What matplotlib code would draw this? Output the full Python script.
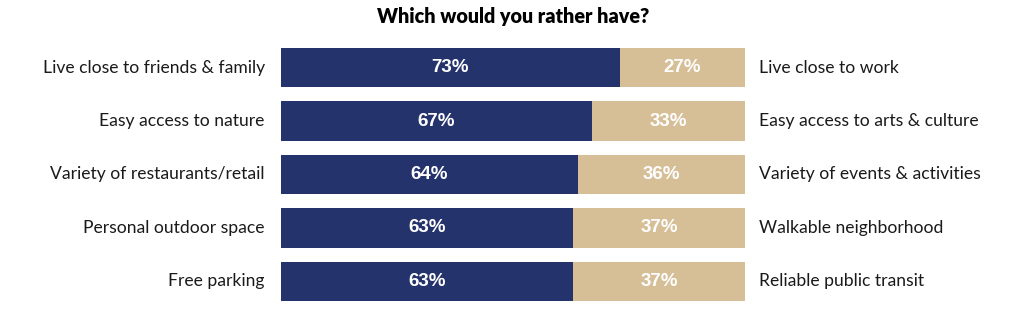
import matplotlib
matplotlib.use("Agg")
import matplotlib.pyplot as plt

left_labels = ["Live close to friends & family", "Easy access to nature",
               "Variety of restaurants/retail", "Personal outdoor space",
               "Free parking"]
right_labels = ["Live close to work", "Easy access to arts & culture",
                "Variety of events & activities", "Walkable neighborhood",
                "Reliable public transit"]
left_pct = [73, 67, 64, 63, 63]
right_pct = [27, 33, 36, 37, 37]

NAVY = "#25336c"
TAN = "#d6be97"

plt.rcParams["font.family"] = ["Lato", "DejaVu Sans"]

W, H = 1024, 329
fig = plt.figure(figsize=(W / 100, H / 100), dpi=100)
# bars span x 281..745 px, rows from y 48 to 301 px
x0, x1 = 281 / W, 745 / W
ax = fig.add_axes([x0, 1 - 301 / H, x1 - x0, (301 - 48) / H])

n = len(left_labels)
ys = list(range(n))
bh = 0.73
ax.barh(ys, left_pct, height=bh, color=NAVY)
ax.barh(ys, right_pct, left=left_pct, height=bh, color=TAN)
ax.set_xlim(0, 100)
ax.set_ylim(n - 1 + bh / 2, -bh / 2)
ax.axis("off")

pct_font = ["Liberation Sans", "DejaVu Sans"]
for y, lp, rp, ll, rl in zip(ys, left_pct, right_pct, left_labels, right_labels):
    ax.text(lp / 2, y, f"{lp}%", ha="center", va="center", color="white",
            fontsize=13.5, fontweight="bold", family=pct_font)
    ax.text(lp + rp / 2, y, f"{rp}%", ha="center", va="center", color="white",
            fontsize=13.5, fontweight="bold", family=pct_font)
    ax.text(-3.5, y, ll, ha="right", va="center", color="#1a1a1a", fontsize=12.6)
    ax.text(3.0 + 100, y, rl, ha="left", va="center", color="#1a1a1a", fontsize=12.6)

fig.text(513 / W, 1 - 17 / H, "Which would you rather have?", ha="center",
         va="center", fontsize=14.2, fontweight="heavy", color="black")

fig.savefig("out.png", dpi=100)
